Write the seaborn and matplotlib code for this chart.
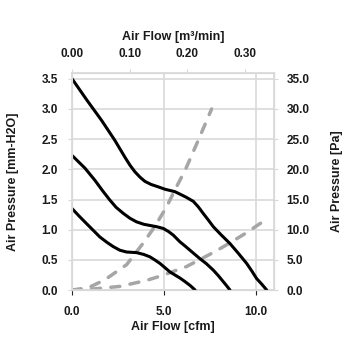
import numpy as np
import pandas as pd
import seaborn as sns
import matplotlib.pyplot as plt

# fan curves (x in cfm, y in mm-H2O)
high_x = [0.0, 0.8, 1.61, 2.33, 2.88, 3.15, 3.42, 3.7, 3.97, 4.3, 4.69, 5.06, 5.6, 5.87, 6.2, 6.6, 6.87, 7.14,
          7.42, 7.69, 8.1, 8.6, 9.05, 9.51, 9.8, 10.05, 10.35, 10.6]
high_y = [3.5, 3.15, 2.81, 2.48, 2.20, 2.07, 1.96, 1.87, 1.80, 1.75, 1.71, 1.67, 1.63, 1.59, 1.54, 1.47, 1.38, 1.27,
          1.16, 1.05, 0.92, 0.77, 0.61, 0.44, 0.31, 0.19, 0.09, 0.0]
mid_x = [0.0, 0.7, 1.24, 1.65, 2.06, 2.4, 2.79, 3.15, 3.51, 3.9, 4.24, 4.6, 4.97, 5.25, 5.51, 5.87, 6.15, 6.42,
         6.96, 7.3, 7.69, 7.96, 8.23, 8.42, 8.6]
mid_y = [2.23, 2.02, 1.82, 1.65, 1.49, 1.37, 1.27, 1.19, 1.13, 1.09, 1.07, 1.05, 1.02, 0.97, 0.91, 0.80, 0.73, 0.66,
         0.52, 0.44, 0.33, 0.24, 0.14, 0.07, 0.0]
low_x = [0.0, 0.4, 0.79, 1.15, 1.51, 1.9, 2.24, 2.6, 2.97, 3.51, 3.9, 4.24, 4.5, 4.79, 5.06, 5.33, 5.6, 5.87,
         6.15, 6.45, 6.7]
low_y = [1.35, 1.22, 1.10, 0.99, 0.88, 0.79, 0.72, 0.66, 0.63, 0.62, 0.59, 0.55, 0.50, 0.44, 0.37, 0.30, 0.25, 0.20,
         0.14, 0.07, 0.0]

# system impedance curves (dashed)
imp1_x = [0.0, 0.9, 1.79, 2.4, 2.97, 3.5, 3.88, 4.5, 5.15, 5.6, 6.15, 6.87, 7.6]
imp1_y = [0.0, 0.04, 0.17, 0.30, 0.42, 0.63, 0.78, 1.05, 1.38, 1.66, 1.98, 2.48, 3.0]
imp2_x = [0.0, 1.24, 2.6, 4.06, 4.9, 5.7, 6.24, 6.87, 7.8, 8.7, 9.5, 10.33, 10.75]
imp2_y = [0.0, 0.02, 0.06, 0.16, 0.24, 0.33, 0.39, 0.49, 0.64, 0.80, 0.95, 1.12, 1.18]

y_ticks = [0.0, 0.5, 1.0, 1.5, 2.0, 2.5, 3.0, 3.5]
pa_ticks = [0, 5, 10, 15, 20, 25, 30, 35]
x_ticks = [0, 5, 10]
m3_ticks = [0.0, 0.1, 0.2, 0.3]

sns.set_style("white")
plt.rcParams['font.family'] = ['Liberation Sans', 'DejaVu Sans']
plt.rcParams['font.weight'] = 'bold'
txt_c = '#1a1a1a'
plt.rcParams['text.color'] = txt_c
plt.rcParams['axes.labelcolor'] = txt_c
plt.rcParams['xtick.labelcolor'] = txt_c
plt.rcParams['ytick.labelcolor'] = txt_c

grid_c = '#d9d9d9'
fs_tick = 8.5
fs_lab = 9
fig = plt.figure(figsize=(3.55, 3.55), dpi=100)
ax = fig.add_axes([0.203, 0.183, 0.569, 0.612])

for xs, ys in [(high_x, high_y), (mid_x, mid_y), (low_x, low_y)]:
    sns.lineplot(x=xs, y=ys, ax=ax, color='black', linewidth=2.2, sort=False, zorder=3)
for xs, ys in [(imp1_x, imp1_y), (imp2_x, imp2_y)]:
    sns.lineplot(x=xs, y=ys, ax=ax, color='#a6a6a6', linewidth=2.5, sort=False,
                 linestyle=(0, (2.6, 3.0)), dash_capstyle='round', zorder=2)

ax.set_xlim(0, 11)
ax.set_ylim(0, 3.6)
ax.set_xticks(x_ticks)
ax.set_xticklabels(['%.1f' % v for v in x_ticks])
ax.set_yticks(y_ticks)
ax.set_yticklabels(['%.1f' % v for v in y_ticks])
ax.grid(True, color=grid_c, linewidth=1.2)
for s in ax.spines.values():
    s.set_color(grid_c)
    s.set_linewidth(1.2)
ax.tick_params(axis='y', left=True, length=3, color=grid_c, labelsize=fs_tick, pad=7)
ax.tick_params(axis='x', bottom=False, labelsize=fs_tick, pad=8)
ax.set_xlabel('Air Flow [cfm]', fontsize=fs_lab, fontweight='bold', labelpad=2)
ax.set_ylabel('Air Pressure [mm-H2O]', fontsize=fs_lab, fontweight='bold', labelpad=16)

ax_r = ax.twinx()
ax_r.set_ylim(0, 36)
ax_r.set_yticks(pa_ticks)
ax_r.set_yticklabels(['%.1f' % v for v in pa_ticks])
ax_r.tick_params(axis='y', right=True, length=3, color=grid_c, labelsize=fs_tick, pad=6)
ax_r.set_ylabel('Air Pressure [Pa]', fontsize=fs_lab, fontweight='bold', labelpad=15)
ax_r.grid(False)
for s in ax_r.spines.values():
    s.set_color(grid_c)

ax_t = ax.twiny()
ax_t.set_xlim(0, 0.35)
ax_t.set_xticks(m3_ticks)
ax_t.set_xticklabels(['%.2f' % v for v in m3_ticks])
ax_t.tick_params(axis='x', top=True, length=3, color=grid_c, labelsize=fs_tick, pad=6)
ax_t.set_xlabel('Air Flow [m\u00b3/min]', fontsize=fs_lab, fontweight='bold', labelpad=6)
ax_t.grid(False)
for s in ax_t.spines.values():
    s.set_color(grid_c)

fig.savefig('out.png', dpi=100)
